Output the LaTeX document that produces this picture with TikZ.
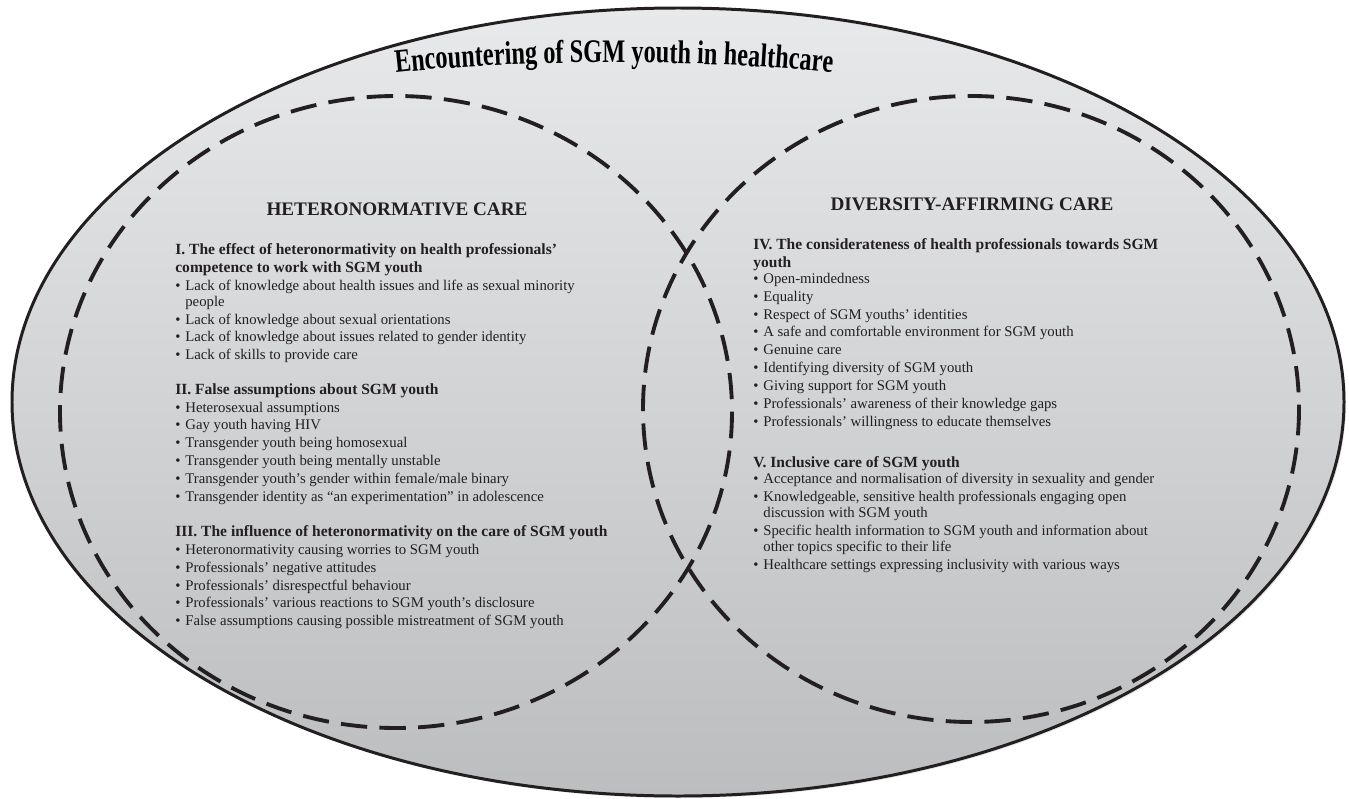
\documentclass[tikz,border=0pt]{standalone}
\usepackage{fontspec}
\setmainfont{Liberation Serif}
\newfontfamily\titlefont[FakeStretch=0.74]{Liberation Serif}
\usetikzlibrary{decorations.text}

\definecolor{ovaltop}{RGB}{232,233,235}
\definecolor{ovalbottom}{RGB}{187,189,191}
\definecolor{ink}{RGB}{35,31,32}

\newcommand\titlestyle{\titlefont\bfseries\fontsize{18.7}{20}\selectfont}
\newcommand\bul{\makebox[5.7pt][l]{\textbullet}}
\newcommand\hang{\hspace*{5.7pt}}
\newcommand\hd[1]{{\fontsize{8.84}{10.2}\selectfont\bfseries #1}}

\tikzset{
  outer line/.style={line width=1.7pt, draw=ink},
  venn line/.style={line width=2.2pt, draw=ink, dash pattern=on 15pt off 7pt},
  cathead/.style={font=\fontsize{10.9}{12}\selectfont\bfseries, text=ink, anchor=base, inner sep=0pt},
  block/.style={font=\fontsize{8.4}{10.2}\selectfont, text=ink, align=left, anchor=north west, inner sep=0pt},
}

\begin{document}
\begin{tikzpicture}[x=0.02cm, y=-0.02cm]
	%%%%% FRAME %%%%%
	\useasboundingbox (0, 0) rectangle (1349, 798);
	
	%%%%% OUTER OVAL %%%%%
	\fill[black, opacity=0.10] (680, 404) ellipse [x radius=666, y radius=394];
	\shade[top color=ovaltop, bottom color=ovalbottom] (678, 402) ellipse [x radius=666, y radius=394];
	\draw[outer line] (678, 402) ellipse [x radius=666, y radius=394];
	
	\path[decorate, decoration={text along path, text align=center,
		text={|\titlestyle|Encountering of SGM youth in healthcare}}]
		(370, 76) .. controls (500, 58) and (728, 58) .. (858, 76);
	
	%%%%% VENN %%%%%
	\draw[venn line] (396, 412) ellipse [x radius=336, y radius=316];
	\draw[venn line] (971, 409) ellipse [x radius=328, y radius=313];
	
	%%%%% LEFT %%%%%
	\node[cathead] (hetero) at (397, 215) {HETERONORMATIVE CARE};
	
	\node[block] (compet) at (175, 243) {%
		\hd{I. The effect of heteronormativity on health professionals'}\\
		\hd{competence to work with SGM youth}\\
		\bul Lack of knowledge about health issues and life as sexual minority\\[-1.1pt]
		\hang people\\
		\bul Lack of knowledge about sexual orientations\\
		\bul Lack of knowledge about issues related to gender identity\\
		\bul Lack of skills to provide care};
	
	\node[block] (assume) at (175, 383) {%
		\hd{II. False assumptions about SGM youth}\\
		\bul Heterosexual assumptions\\
		\bul Gay youth having HIV\\
		\bul Transgender youth being homosexual\\
		\bul Transgender youth being mentally unstable\\
		\bul Transgender youth's gender within female/male binary\\
		\bul Transgender identity as ``an experimentation'' in adolescence};
	
	\node[block] (influence) at (175, 525) {%
		\hd{III. The influence of heteronormativity on the care of SGM youth}\\
		\bul Heteronormativity causing worries to SGM youth\\
		\bul Professionals' negative attitudes\\
		\bul Professionals' disrespectful behaviour\\
		\bul Professionals' various reactions to SGM youth's disclosure\\
		\bul False assumptions causing possible mistreatment of SGM youth};
	
	%%%%% RIGHT %%%%%
	\node[cathead] (diverse) at (972, 210) {DIVERSITY-AFFIRMING CARE};
	
	\node[block] (consider) at (753, 238) {%
		\hd{IV. The considerateness of health professionals towards SGM}\\
		\hd{youth}\\[-1.1pt]
		\bul Open-mindedness\\
		\bul Equality\\
		\bul Respect of SGM youths' identities\\
		\bul A safe and comfortable environment for SGM youth\\
		\bul Genuine care\\
		\bul Identifying diversity of SGM youth\\
		\bul Giving support for SGM youth\\
		\bul Professionals' awareness of their knowledge gaps\\
		\bul Professionals' willingness to educate themselves};
	
	\node[block] (inclusive) at (753, 456) {%
		\hd{V. Inclusive care of SGM youth}\\[-1.1pt]
		\bul Acceptance and normalisation of diversity in sexuality and gender\\
		\bul Knowledgeable, sensitive health professionals engaging open\\[-1.1pt]
		\hang discussion with SGM youth\\
		\bul Specific health information to SGM youth and information about\\[-1.1pt]
		\hang other topics specific to their life\\
		\bul Healthcare settings expressing inclusivity with various ways};
	
	%%%%% END %%%%%
\end{tikzpicture}
\end{document}
